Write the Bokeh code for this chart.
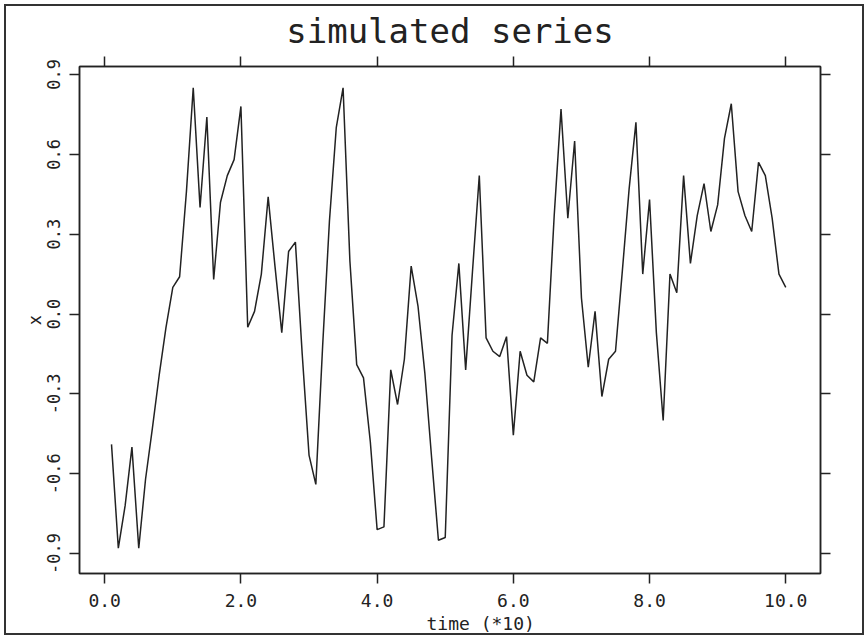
import numpy as np
from bokeh.plotting import figure
from bokeh.models import LinearAxis, FixedTicker, Range1d, Title
from bokeh.embed import file_html
from bokeh.resources import INLINE

title_text = "simulated series"
x_label = "time  (*10)"
y_label = "x"

# time index (in units of 10), 100 observations
time = [i / 10 for i in range(1, 101)]
series = [
    -0.49, -0.88, -0.72, -0.50, -0.88, -0.62, -0.43, -0.23, -0.05, 0.10,
    0.14, 0.46, 0.85, 0.40, 0.74, 0.13, 0.42, 0.52, 0.58, 0.78,
    -0.05, 0.01, 0.15, 0.44, 0.18, -0.07, 0.235, 0.27, -0.15, -0.53,
    -0.64, -0.12, 0.35, 0.70, 0.85, 0.20, -0.19, -0.24, -0.48, -0.81,
    -0.80, -0.21, -0.34, -0.17, 0.18, 0.03, -0.22, -0.54, -0.85, -0.84,
    -0.08, 0.19, -0.21, 0.16, 0.52, -0.09, -0.14, -0.16, -0.085, -0.455,
    -0.14, -0.23, -0.255, -0.09, -0.11, 0.37, 0.77, 0.36, 0.65, 0.06,
    -0.20, 0.01, -0.31, -0.17, -0.14, 0.16, 0.47, 0.72, 0.15, 0.43,
    -0.07, -0.40, 0.15, 0.08, 0.52, 0.19, 0.37, 0.49, 0.31, 0.41,
    0.66, 0.79, 0.46, 0.37, 0.31, 0.57, 0.52, 0.36, 0.15, 0.10,
]

x_ticks = [0, 2, 4, 6, 8, 10]
x_tick_labels = ["0.0", "2.0", "4.0", "6.0", "8.0", "10.0"]
y_ticks = [-0.9, -0.6, -0.3, 0.0, 0.3, 0.6, 0.9]
y_tick_labels = ["-0.9", "-0.6", "-0.3", "0.0", "0.3", "0.6", "0.9"]

INK = "#222222"
FONT = "DejaVu Sans Mono"

p = figure(width=868, height=639,
           x_range=Range1d(-0.37, 10.51), y_range=Range1d(-0.975, 0.93),
           output_backend="svg", toolbar_location=None, title=title_text,
           min_border_left=79, min_border_right=48,
           min_border_top=66, min_border_bottom=66)
p.line(time, series, line_color=INK, line_width=1.5)
p.grid.visible = False
p.outline_line_color = INK
p.outline_line_width = 1.5
# transparent canvas so the page frame (CSS outline on the host) shows through
p.background_fill_color = None
p.border_fill_color = None
p.styles = {"outline": "2px solid #333333",
            "outline-offset": "-6px", "outlineOffset": "-6px",
            "background-color": "white"}

p.title.text_font = FONT
p.title.text_font_size = "34px"
p.title.text_font_style = "normal"
p.title.text_color = INK
p.title.align = "center"
p.title.standoff = 12


def style_axis(ax, ticks, labels, show):
    ax.ticker = FixedTicker(ticks=ticks)
    ax.major_label_overrides = {t: (l if show else "") for t, l in zip(ticks, labels)}
    ax.major_tick_out = 10
    ax.major_tick_in = 0
    ax.minor_tick_out = 0
    ax.minor_tick_in = 0
    ax.major_tick_line_color = INK
    ax.major_tick_line_width = 1.5
    ax.axis_line_color = INK
    ax.axis_line_width = 1.5
    ax.major_label_text_font = FONT
    ax.major_label_text_color = INK
    ax.axis_label_text_font = FONT
    ax.axis_label_text_color = INK
    ax.axis_label_text_font_style = "normal"


xb = p.xaxis[0]
style_axis(xb, x_ticks, x_tick_labels, True)
xb.major_label_text_font_size = "18px"
xb.major_label_standoff = 10

yl = p.yaxis[0]
style_axis(yl, y_ticks, y_tick_labels, True)
yl.major_label_text_font_size = "17px"
yl.major_label_orientation = "vertical"
yl.major_label_standoff = 9
yl.axis_label = y_label
yl.axis_label_text_font_size = "17px"
yl.axis_label_standoff = 0

xt = LinearAxis()
style_axis(xt, x_ticks, x_tick_labels, False)
xt.major_label_standoff = 0
p.add_layout(xt, "above")

yr = LinearAxis()
style_axis(yr, y_ticks, y_tick_labels, False)
yr.major_label_standoff = 0
p.add_layout(yr, "right")

# x-axis caption: "time" centred under the frame, "(*10)" appended
cap = Title(text=x_label, align="left", offset=347, standoff=2,
            text_font=FONT, text_font_size="18px", text_font_style="normal",
            text_color=INK)
p.add_layout(cap, "below")

open("out.html", "w").write(file_html(p, INLINE))
